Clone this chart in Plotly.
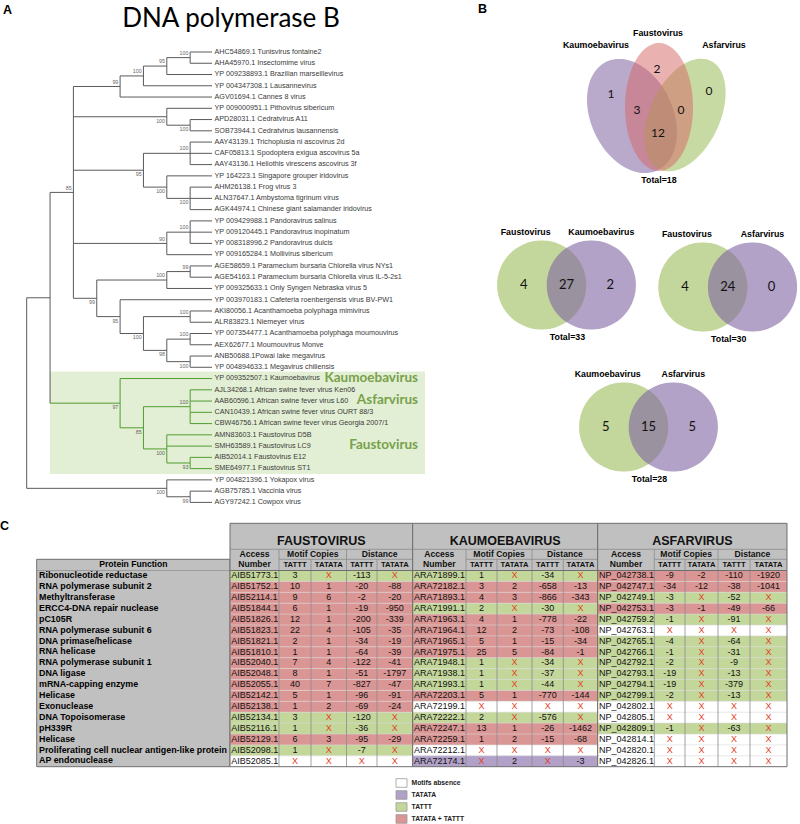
import math
import plotly.graph_objects as go

ARIAL = "Liberation Sans, Arial, sans-serif"
CALI = "Lato, Open Sans, sans-serif"

# ---------------- Panel A data ----------------
title_a = "DNA polymerase B"
leaf_labels = [
    "AHC54869.1 Tunisvirus fontaine2",
    "AHA45970.1 Insectomime virus",
    "YP 009238893.1 Brazilian marseillevirus",
    "YP 004347308.1 Lausannevirus",
    "AGV01694.1 Cannes 8 virus",
    "YP 009000951.1 Pithovirus sibericum",
    "APD28031.1 Cedratvirus A11",
    "SOB73944.1 Cedratvirus lausannensis",
    "AAY43139.1 Trichoplusia ni ascovirus 2d",
    "CAF05813.1 Spodoptera exigua ascovirus 5a",
    "AAY43136.1 Heliothis virescens ascovirus 3f",
    "YP 164223.1 Singapore grouper iridovirus",
    "AHM26138.1 Frog virus 3",
    "ALN37647.1 Ambystoma tigrinum virus",
    "AGK44974.1 Chinese giant salamander iridovirus",
    "YP 009429988.1 Pandoravirus salinus",
    "YP 009120445.1 Pandoravirus inopinatum",
    "YP 008318996.2 Pandoravirus dulcis",
    "YP 009165284.1 Mollivirus sibericum",
    "AGE58659.1 Paramecium bursaria Chlorella virus NYs1",
    "AGE54163.1 Paramecium bursaria Chlorella virus IL-5-2s1",
    "YP 009325633.1 Only Syngen Nebraska virus 5",
    "YP 003970183.1 Cafeteria roenbergensis virus BV-PW1",
    "AKI80056.1 Acanthamoeba polyphaga mimivirus",
    "ALR83823.1 Niemeyer virus",
    "YP 007354477.1 Acanthamoeba polyphaga moumouvirus",
    "AEX62677.1 Moumouvirus Monve",
    "ANB50688.1Powai lake megavirus",
    "YP 004894633.1 Megavirus chiliensis",
    "YP 009352507.1 Kaumoebavirus",
    "AJL34268.1 African swine fever virus Ken06",
    "AAB60596.1 African swine fever virus L60",
    "CAN10439.1 African swine fever virus OURT 88/3",
    "CBW46756.1 African swine fever virus Georgia 2007/1",
    "AMN83603.1 Faustovirus D5B",
    "SMH63589.1 Faustovirus LC9",
    "AIB52014.1 Faustovirus E12",
    "SME64977.1 Faustovirus ST1",
    "YP 004821396.1 Yokapox virus",
    "AGB75785.1 Vaccinia virus",
    "AGY97242.1 Cowpox virus",
]
clade_names = ["Kaumoebavirus", "Asfarvirus", "Faustovirus"]
clade_leaf = [29, 31, 35]


def N(bs, side, *kids, green=False):
    return {"bs": bs, "side": side, "kids": list(kids), "green": green}


tree = N(None, None,
         N(None, None,
           N(85, "a",
             N(99, "a", N(100, "a", N(95, "a", N(100, "a", 0, 1), 2), 3), 4),
             N(100, "b", 5, N(100, "b", 6, 7)),
             N(95, "b", N(100, "a", 8, 9, 10), N(100, "b", 11, N(100, "b", 12, 13, 14))),
             N(90, "a", N(100, "a", 15, 16, 17), 18),
             N(99, "b",
               N(100, "a", N(99, "a", 19, 20), 21),
               N(95, "b", 22,
                 N(100, "b", N(100, "a", 23, 24),
                   N(98, "b", N(100, "a", 25, 26), N(100, "b", 27, 28)))))),
           N(97, "b", 29,
             N(85, "b", N(100, "a", 30, 31, 32, 33),
               N(100, "b", 34, 35, N(93, "b", 36, 37))), green=True)),
         N(100, "b", 38, N(99, "b", 39, 40)))

# ---------------- Panel B data ----------------
venn3_names = ["Kaumoebavirus", "Faustovirus", "Asfarvirus"]
venn3_counts = {"K": 1, "F": 2, "A": 0, "KF": 3, "FA": 0, "KFA": 12}
venn3_total = 18
venn2_left = ["Faustovirus", "Faustovirus", "Kaumoebavirus"]
venn2_right = ["Kaumoebavirus", "Asfarvirus", "Asfarvirus"]
venn2_only_left = [4, 4, 5]
venn2_shared = [27, 24, 15]
venn2_only_right = [2, 0, 5]
venn2_total = [33, 30, 28]

# ---------------- Panel C data ----------------
protein_functions = [
    "Ribonucleotide reductase", "RNA polymerase subunit 2", "Methyltransferase",
    "ERCC4-DNA repair nuclease", "pC105R", "RNA polymerase subunit 6",
    "DNA primase/helicase", "RNA helicase", "RNA polymerase subunit 1", "DNA ligase",
    "mRNA-capping enzyme", "Helicase", "Exonuclease", "DNA Topoisomerase", "pH339R",
    "Helicase", "Proliferating cell nuclear antigen-like protein", "AP endonuclease"]

faust_access = ["AIB51773.1", "AIB51752.1", "AIB52114.1", "AIB51844.1", "AIB51826.1", "AIB51823.1",
                "AIB51821.1", "AIB51810.1", "AIB52040.1", "AIB52048.1", "AIB52055.1", "AIB52142.1",
                "AIB52138.1", "AIB52134.1", "AIB52116.1", "AIB52129.1", "AIB52098.1", "AIB52085.1"]
faust_tattt = ["3", "10", "9", "6", "12", "22", "2", "1", "7", "8", "40", "5", "1", "3", "1", "6", "1", "X"]
faust_tatata = ["X", "1", "6", "1", "1", "4", "1", "1", "4", "1", "7", "1", "2", "X", "X", "3", "X", "X"]
faust_dist_tattt = ["-113", "-20", "-2", "-19", "-200", "-105", "-34", "-64", "-122", "-51", "-827", "-96",
                    "-69", "-120", "-36", "-95", "-7", "X"]
faust_dist_tatata = ["X", "-88", "-20", "-950", "-339", "-35", "-19", "-39", "-41", "-1797", "-47", "-91",
                     "-24", "X", "X", "-29", "X", "X"]

kaum_access = ["ARA71899.1", "ARA72182.1", "ARA71893.1", "ARA71991.1", "ARA71963.1", "ARA71964.1",
               "ARA71965.1", "ARA71975.1", "ARA71948.1", "ARA71938.1", "ARA71993.1", "ARA72203.1",
               "ARA72199.1", "ARA72222.1", "ARA72247.1", "ARA72259.1", "ARA72212.1", "ARA72174.1"]
kaum_tattt = ["1", "3", "4", "2", "4", "12", "5", "25", "1", "1", "1", "5", "X", "2", "13", "1", "X", "X"]
kaum_tatata = ["X", "2", "3", "X", "1", "2", "1", "5", "X", "X", "X", "1", "X", "X", "1", "2", "X", "2"]
kaum_dist_tattt = ["-34", "-658", "-866", "-30", "-778", "-73", "-15", "-84", "-34", "-37", "-44", "-770",
                   "X", "-576", "-26", "-15", "X", "X"]
kaum_dist_tatata = ["X", "-13", "-343", "X", "-22", "-108", "-34", "-1", "X", "X", "X", "-144",
                    "X", "X", "-1462", "-68", "X", "-3"]

asfar_access = ["NP_042738.1", "NP_042747.1", "NP_042749.1", "NP_042753.1", "NP_042759.2", "NP_042763.1",
                "NP_042765.1", "NP_042766.1", "NP_042792.1", "NP_042793.1", "NP_042794.1", "NP_042799.1",
                "NP_042802.1", "NP_042805.1", "NP_042809.1", "NP_042814.1", "NP_042820.1", "NP_042826.1"]
asfar_tattt = ["-9", "-34", "-3", "-3", "-1", "X", "-4", "-1", "-2", "-19", "-19", "-2", "X", "X", "-1", "X", "X", "X"]
asfar_tatata = ["-2", "-12", "X", "-1", "X", "X", "X", "X", "X", "X", "X", "X", "X", "X", "X", "X", "X", "X"]
asfar_dist_tattt = ["-110", "-38", "-52", "-49", "-91", "X", "-64", "-31", "-9", "-13", "-379", "-13",
                    "X", "X", "-63", "X", "X", "X"]
asfar_dist_tatata = ["-1920", "-1041", "X", "-66", "X", "X", "X", "X", "X", "X", "X", "X",
                     "X", "X", "X", "X", "X", "X"]

block_names = ["FAUSTOVIRUS", "KAUMOEBAVIRUS", "ASFARVIRUS"]
legend_labels = ["Motifs absence", "TATATA", "TATTT", "TATATA + TATTT"]

# ---------------- styling ----------------
C_GREEN = "#c4d79b"
C_RED = "#da9694"
C_PURPLE = "#b1a0c7"
C_WHITE = "#ffffff"
C_GRAY = "#c0c0c0"
C_X = "#e2401f"
TREE_GRAY = "#5a5a5a"
TREE_GREEN = "#4f9d2f"

shapes = []
texts = {}


def add_text(x, y, s, size, color="#000000", family=ARIAL, weight="normal", anchor="center"):
    key = (size, color, family, weight, anchor)
    g = texts.setdefault(key, ([], [], []))
    g[0].append(x)
    g[1].append(y)
    g[2].append(s)


def rect(x0, y0, x1, y1, fill=None, line=None, lw=0.8, layer="below"):
    d = dict(type="rect", x0=x0, y0=y0, x1=x1, y1=y1, layer=layer,
             line=dict(color=line if line else "rgba(0,0,0,0)", width=lw if line else 0))
    if fill:
        d["fillcolor"] = fill
    shapes.append(d)


def hline(x0, x1, y, color, lw):
    shapes.append(dict(type="line", x0=x0, x1=x1, y0=y, y1=y, layer="below", line=dict(color=color, width=lw)))


def vline(x, y0, y1, color, lw):
    shapes.append(dict(type="line", x0=x, x1=x, y0=y0, y1=y1, layer="below", line=dict(color=color, width=lw)))


# ---------------- Panel A drawing ----------------
LEAF_Y0, LEAF_DY = 52.0, 11.26
TIP_X, NODE_X0, STEP = 212.0, 213.5, 23.35
seg = {TREE_GRAY: ([], []), TREE_GREEN: ([], [])}


def leaf_y(i):
    return LEAF_Y0 + i * LEAF_DY


def add_seg(color, x0, y0, x1, y1):
    xs, ys = seg[color]
    xs += [x0, x1, None]
    ys += [y0, y1, None]


def lay(node, green):
    if isinstance(node, int):
        return TIP_X, leaf_y(node), 0
    res = []
    for k in node["kids"]:
        kg = green or (isinstance(k, dict) and k["green"])
        res.append((lay(k, kg), kg))
    h = 1 + max(r[0][2] for r in res)
    x = NODE_X0 - h * STEP
    y = (res[0][0][1] + res[-1][0][1]) / 2
    add_seg(TREE_GREEN if green else TREE_GRAY, x, res[0][0][1], x, res[-1][0][1])
    for (kx, ky, _), kg in res:
        add_seg(TREE_GREEN if kg else TREE_GRAY, x, ky, kx, ky)
    if node["bs"] is not None:
        dy = -4.2 if node["side"] == "a" else 4.6
        add_text(x - 1.8, y + dy, str(node["bs"]), 5.3, "#666666", ARIAL, "normal", "right")
    return x, y, h


# green clade box
rect(50, leaf_y(29) - 7, 425, leaf_y(37) + 5.5, fill="#e3efd4")
lay(tree, False)
for i, lab in enumerate(leaf_labels):
    add_text(214.5, leaf_y(i), lab, 7.2, "#3a3a3a", ARIAL, "normal", "left")
for name, li in zip(clade_names, clade_leaf):
    add_text(418, leaf_y(li), name, 13.5, "#77a14a", CALI, "bold", "right")

add_text(231, 20, title_a, 26, "#000000", CALI, "normal", "center")
add_text(3, 11, "A", 12.5, "#000000", ARIAL, "bold", "left")
add_text(478, 10, "B", 12.5, "#000000", ARIAL, "bold", "left")
add_text(0, 527, "C", 12.5, "#000000", ARIAL, "bold", "left")


# ---------------- Panel B drawing ----------------
def ellipse_path(cx, cy, a, b, ang, n=90):
    t = math.radians(ang)
    pts = []
    for k in range(n):
        th = 2 * math.pi * k / n
        x0, y0 = a * math.cos(th), b * math.sin(th)
        pts.append((cx + x0 * math.cos(t) - y0 * math.sin(t), cy + x0 * math.sin(t) + y0 * math.cos(t)))
    return "M " + " L ".join(f"{px:.2f},{py:.2f}" for px, py in pts) + " Z"


def blob(path, rgb, op=0.6):
    shapes.append(dict(type="path", path=path, fillcolor=rgb, opacity=op, layer="below",
                       line=dict(width=0)))


VP = "rgb(128,100,162)"
VG = "rgb(155,187,88)"
VR = "rgb(213,100,100)"
# three-set venn
blob(ellipse_path(632, 116, 41, 60, -25), VP, 0.55)
blob(ellipse_path(685, 115, 35, 60, 25), VG, 0.55)
blob(ellipse_path(659, 107, 34, 64, 0), VR, 0.5)
add_text(596, 45.7, venn3_names[0], 8.8, "#000", ARIAL, "bold")
add_text(658, 34.3, venn3_names[1], 8.8, "#000", ARIAL, "bold")
add_text(724, 45.7, venn3_names[2], 8.8, "#000", ARIAL, "bold")
for key, (px, py) in {"K": (611, 95), "F": (657, 70), "A": (709, 92), "KF": (637, 111),
                      "FA": (681, 111), "KFA": (658, 134)}.items():
    add_text(px, py, str(venn3_counts[key]), 12, "#111", CALI)
add_text(659, 181, f"Total={venn3_total}", 8.8, "#000", ARIAL, "bold")

venn2_centers = [(566.5, 285), (727.7, 287), (648.5, 427)]
R2, D2 = 44.6, 24.8
for i, (cx, cy) in enumerate(venn2_centers):
    blob(ellipse_path(cx - D2, cy, R2, R2, 0), VG)
    blob(ellipse_path(cx + D2, cy, R2, R2, 0), VP)
    add_text(cx - D2 - 16, cy - 52, venn2_left[i], 8.8, "#000", ARIAL, "bold")
    add_text(cx + D2 + 10, cy - 52, venn2_right[i], 8.8, "#000", ARIAL, "bold")
    add_text(cx - D2 - 18, cy + 1, str(venn2_only_left[i]), 13, "#111", CALI)
    add_text(cx, cy + 1, str(venn2_shared[i]), 13, "#111", CALI)
    add_text(cx + D2 + 19, cy + 1, str(venn2_only_right[i]), 13, "#111", CALI)
    add_text(cx + 1, cy + 52.5, f"Total={venn2_total[i]}", 8.8, "#000", ARIAL, "bold")

# ---------------- Panel C drawing ----------------
T_TOP, T_TITLE_B, T_SUB_B, T_DATA0, ROW_H = 523.3, 549.3, 559.3, 570.5, 10.9
LEFT_X0 = 36.7
block_cols = [[230, 279, 311, 346.5, 377, 412.7],
              [412.7, 466, 497, 532, 563.3, 597.7],
              [597.7, 654.3, 685, 718, 750, 787]]
blocks = [
    (faust_access, faust_tattt, faust_tatata, faust_dist_tattt, faust_dist_tatata),
    (kaum_access, kaum_tattt, kaum_tatata, kaum_dist_tattt, kaum_dist_tatata),
    (asfar_access, asfar_tattt, asfar_tatata, asfar_dist_tattt, asfar_dist_tatata),
]
nrows = len(protein_functions)
T_BOT = T_DATA0 + nrows * ROW_H
LINE_D = "#6e6e6e"
LINE_L = "#8c8c8c"

# left column
rect(LEFT_X0, T_SUB_B, block_cols[0][0], T_BOT, fill=C_GRAY, line=LINE_D, lw=1)
hline(LEFT_X0, block_cols[0][0], T_DATA0, LINE_L, 0.7)
add_text((LEFT_X0 + block_cols[0][0]) / 2, (T_SUB_B + T_DATA0) / 2, "Protein Function", 8.6, "#000", ARIAL, "bold")
for r, name in enumerate(protein_functions):
    add_text(LEFT_X0 + 2.3, T_DATA0 + (r + 0.5) * ROW_H, name, 8.9, "#000", ARIAL, "bold", "left")


def row_color(a, b):
    ha, hb = a != "X", b != "X"
    if ha and hb:
        return C_RED
    if ha:
        return C_GREEN
    if hb:
        return C_PURPLE
    return C_WHITE


for bi, (cols, data) in enumerate(zip(block_cols, blocks)):
    x0, x5 = cols[0], cols[-1]
    # header
    rect(x0, T_TOP, x5, T_DATA0, fill=C_GRAY, line=LINE_D, lw=1)
    hline(x0, x5, T_TITLE_B, LINE_L, 0.8)
    hline(cols[1], x5, T_SUB_B, LINE_L, 0.8)
    for cx in cols[1:-1]:
        vline(cx, T_TITLE_B if cx in (cols[1], cols[3]) else T_SUB_B, T_DATA0, LINE_L, 0.8)
    add_text((x0 + x5) / 2, 541.8, block_names[bi], 12.5, "#111", ARIAL, "bold")
    y_a = (T_TITLE_B + T_SUB_B) / 2 + 0.3
    y_b = (T_SUB_B + T_DATA0) / 2 + 0.3
    add_text((cols[0] + cols[1]) / 2, y_a, "Access", 8.6, "#111", ARIAL, "bold")
    add_text((cols[0] + cols[1]) / 2, y_b, "Number", 8.6, "#111", ARIAL, "bold")
    add_text((cols[1] + cols[3]) / 2, y_a, "Motif Copies", 8.6, "#111", ARIAL, "bold")
    add_text((cols[3] + cols[5]) / 2, y_a, "Distance", 8.6, "#111", ARIAL, "bold")
    for j, lab in enumerate(["TATTT", "TATATA", "TATTT", "TATATA"]):
        add_text((cols[j + 1] + cols[j + 2]) / 2, y_b, lab, 7.7, "#111", ARIAL, "bold")
    # body
    acc, t1, t2, d1, d2 = data
    for r in range(nrows):
        y0 = T_DATA0 + r * ROW_H
        rect(x0, y0, x5, y0 + ROW_H, fill=row_color(t1[r], t2[r]))
        yc = y0 + ROW_H / 2
        add_text(x0 + 1.2, yc, acc[r], 9, "#111", ARIAL, "normal", "left")
        for j, v in enumerate([t1[r], t2[r], d1[r], d2[r]]):
            add_text((cols[j + 1] + cols[j + 2]) / 2, yc, v, 9, C_X if v == "X" else "#111", ARIAL)
    for r in range(1, nrows):
        hline(x0, x5, T_DATA0 + r * ROW_H, "#d6d6d6", 0.6)
    for cx in cols[1:-1]:
        vline(cx, T_DATA0, T_BOT, LINE_L, 0.8)
    rect(x0, T_DATA0, x5, T_BOT, line=LINE_D, lw=1)

# legend
leg_colors = [C_WHITE, C_PURPLE, C_GREEN, C_RED]
for k, (lab, col) in enumerate(zip(legend_labels, leg_colors)):
    yc = 783 + k * 12
    rect(396, yc - 4.3, 407, yc + 4.3, fill=col, line="#9a9a9a", lw=0.8)
    add_text(411.5, yc, lab, 6.8, "#222", ARIAL, "bold", "left")

# ---------------- figure ----------------
fig = go.Figure()
for col, (xs, ys) in seg.items():
    fig.add_trace(go.Scatter(x=xs, y=ys, mode="lines", line=dict(color=col, width=1),
                             hoverinfo="skip", showlegend=False))
pos = {"left": "middle right", "right": "middle left", "center": "middle center"}
for (size, color, family, weight, anchor), (xs, ys, ss) in texts.items():
    fig.add_trace(go.Scatter(x=xs, y=ys, text=ss, mode="text", textposition=pos[anchor],
                             textfont=dict(size=size, color=color, family=family, weight=weight),
                             hoverinfo="skip", showlegend=False))

fig.update_layout(
    width=800, height=824, margin=dict(l=0, r=0, t=0, b=0),
    paper_bgcolor="white", plot_bgcolor="white", shapes=shapes,
    xaxis=dict(range=[0, 800], visible=False, fixedrange=True),
    yaxis=dict(range=[824, 0], visible=False, fixedrange=True),
)
fig.write_html("out.html", config={"displayModeBar": False},
               post_script="document.body.style.margin='0px';")
